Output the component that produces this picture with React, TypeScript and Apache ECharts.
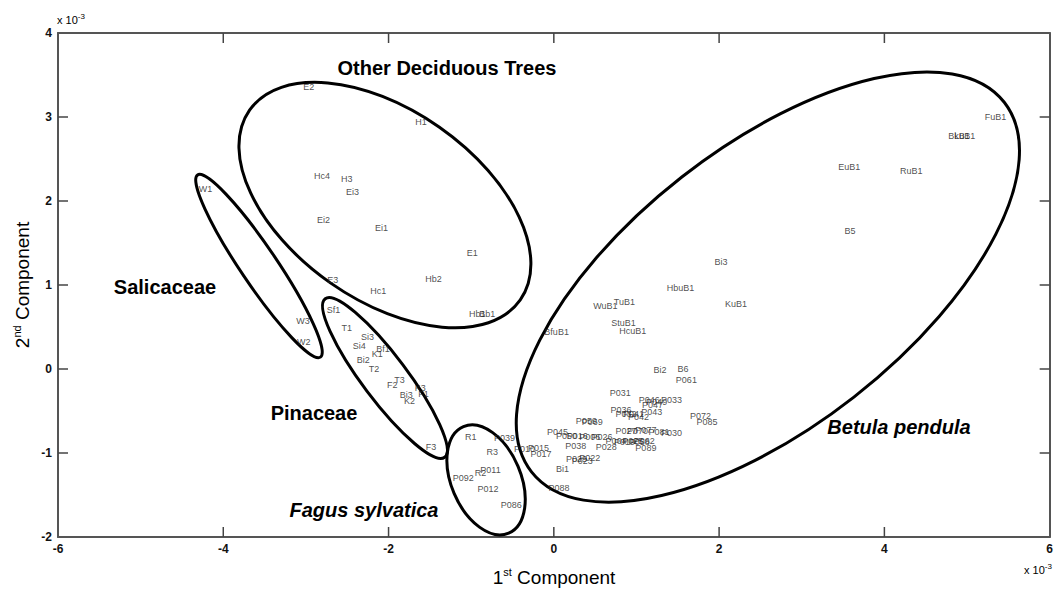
import React, { useEffect, useRef } from "react";
import * as echarts from "echarts";

// [label, 1st component (x10^-3), 2nd component (x10^-3)]
const deciduousPoints: [string, number, number][] = [
  ["E2", -2.96, 3.35], ["H1", -1.6, 2.94], ["Hc4", -2.8, 2.29], ["H3", -2.5, 2.26],
  ["Ei3", -2.43, 2.1], ["Ei2", -2.78, 1.77], ["Ei1", -2.08, 1.67], ["E1", -0.98, 1.38],
  ["E3", -2.67, 1.05], ["Hb2", -1.45, 1.06], ["Hc1", -2.12, 0.92], ["Hb1", -0.92, 0.65],
  ["Bb1", -0.8, 0.65],
];
const salicaceaePoints: [string, number, number][] = [
  ["W1", -4.21, 2.14], ["W3", -3.03, 0.56], ["W2", -3.02, 0.31],
];
const pinaceaePoints: [string, number, number][] = [
  ["Sf1", -2.66, 0.7], ["T1", -2.5, 0.48], ["Si3", -2.25, 0.38], ["Si4", -2.35, 0.27],
  ["Bf1", -2.06, 0.23], ["K1", -2.13, 0.17], ["Bi2", -2.3, 0.1], ["T2", -2.17, 0.0],
  ["F2", -1.95, -0.2], ["T3", -1.86, -0.14], ["K3", -1.61, -0.23], ["F1", -1.57, -0.3],
  ["Bi3", -1.78, -0.32], ["K2", -1.74, -0.39], ["F3", -1.48, -0.94],
];
const fagusPoints: [string, number, number][] = [
  ["R1", -1.0, -0.81], ["P039", -0.59, -0.83], ["R3", -0.74, -0.99], ["P011", -0.76, -1.21],
  ["R2", -0.88, -1.24], ["P092", -1.09, -1.3], ["P012", -0.79, -1.43], ["P086", -0.51, -1.63],
];
const betulaPoints: [string, number, number][] = [
  ["FuB1", 5.35, 2.99], ["BkB1", 4.91, 2.77], ["LuB1", 4.98, 2.77], ["EuB1", 3.58, 2.4],
  ["RuB1", 4.33, 2.35], ["B5", 3.59, 1.64], ["Bi3", 2.03, 1.27], ["HbuB1", 1.54, 0.96],
  ["KuB1", 2.21, 0.77], ["WuB1", 0.63, 0.75], ["TuB1", 0.86, 0.79], ["StuB1", 0.85, 0.54],
  ["HcuB1", 0.96, 0.45], ["BfuB1", 0.04, 0.43], ["Bi2", 1.29, -0.02], ["B6", 1.57, 0.0],
  ["P061", 1.61, -0.14], ["P031", 0.81, -0.29], ["P046", 1.16, -0.38], ["P049", 1.25, -0.4],
  ["P033", 1.43, -0.37], ["P047", 1.2, -0.43], ["P043", 1.19, -0.52], ["P036", 0.82, -0.49],
  ["P032", 0.88, -0.54], ["P041", 0.97, -0.54], ["P042", 1.03, -0.58], ["P059", 0.4, -0.62],
  ["P069", 0.47, -0.64], ["P072", 1.78, -0.56], ["P085", 1.86, -0.64], ["P027", 0.88, -0.74],
  ["P070", 1.02, -0.74], ["P077", 1.12, -0.73], ["P081", 1.28, -0.75], ["P030", 1.43, -0.77],
  ["P045", 0.05, -0.75], ["P050", 0.16, -0.8], ["P016", 0.29, -0.8], ["P006", 0.44, -0.81],
  ["P026", 0.59, -0.81], ["P038", 0.27, -0.92], ["P028", 0.64, -0.94], ["P004", 0.76, -0.86],
  ["P019", 0.86, -0.88], ["P025", 0.96, -0.86], ["P058", 1.04, -0.88], ["P062", 1.1, -0.86],
  ["P089", 1.12, -0.95], ["P010", -0.35, -0.96], ["P015", -0.18, -0.95], ["P017", -0.15, -1.02],
  ["P022", 0.44, -1.06], ["P029", 0.28, -1.08], ["P023", 0.35, -1.1], ["Bi1", 0.11, -1.2],
  ["P088", 0.07, -1.42],
];

// group outlines: [centre x, centre y, semi-major (x units), semi-minor (x units), tilt deg]
const groupEllipses: [number, number, number, number, number][] = [
  [-2.044, 1.952, 2.0, 1.15, -35],
  [-3.568, 1.226, 1.33, 0.22, -56],
  [-2.044, -0.107, 1.2, 0.27, -53],
  [-0.82, -1.32, 0.7, 0.42, -67],
  [2.59, 0.976, 3.63, 1.69, 38],
];

const xTicks = { min: -6, max: 6, interval: 2 };
const yTicks = { min: -2, max: 4, interval: 1 };
const xTickValues = [-4, -2, 0, 2, 4];
const yTickValues = [-1, 0, 1, 2, 3];

const FONT = "Liberation Sans, Arial, sans-serif";

const makeLine = () => ({ show: true, onZero: false, lineStyle: { color: "#555", width: 2 } });
const makeLabel = () => ({ fontSize: 12, fontWeight: "bold", color: "#111", fontFamily: FONT, margin: 6 });

export default function App() {
  const ref = useRef<HTMLDivElement>(null);
  useEffect(() => {
    document.body.style.margin = "0";
    const chart = echarts.init(ref.current!, null, { renderer: "svg" });
    const allPoints = [
      ...deciduousPoints, ...salicaceaePoints, ...pinaceaePoints, ...fagusPoints, ...betulaPoints,
    ];
    const tickData = [
      ...xTickValues.map((v) => [0, v]),
      ...yTickValues.map((v) => [1, v]),
    ];
    const TL = 10;
    const tickStyle = { stroke: "#444", lineWidth: 1.5 };
    chart.setOption({
      animation: false,
      backgroundColor: "#fff",
      grid: { left: 58, right: 6, top: 33, bottom: 53 },
      xAxis: [
        {
          type: "value", ...xTicks, position: "bottom",
          axisLine: makeLine(), axisTick: { show: false }, splitLine: { show: false },
          axisLabel: makeLabel(),
        },
        {
          type: "value", ...xTicks, position: "top",
          axisLine: makeLine(), axisTick: { show: false }, splitLine: { show: false },
          axisLabel: { show: false },
        },
      ],
      yAxis: [
        {
          type: "value", ...yTicks, position: "left",
          axisLine: makeLine(), axisTick: { show: false }, splitLine: { show: false },
          axisLabel: makeLabel(),
        },
        {
          type: "value", ...yTicks, position: "right",
          axisLine: makeLine(), axisTick: { show: false }, splitLine: { show: false },
          axisLabel: { show: false },
        },
      ],
      series: [
        {
          // inward tick marks on all four sides of the frame, placed through the axes' scales
          type: "custom",
          xAxisIndex: 0, yAxisIndex: 0,
          clip: false,
          silent: true,
          data: tickData,
          renderItem: (params: any, api: any) => {
            const cs = params.coordSys;
            const kind = api.value(0);
            const v = api.value(1);
            if (kind === 0) {
              const px = api.coord([v, yTicks.min])[0];
              const bottom = cs.y + cs.height;
              return {
                type: "group",
                children: [
                  { type: "line", shape: { x1: px, y1: bottom, x2: px, y2: bottom - TL }, style: tickStyle },
                  { type: "line", shape: { x1: px, y1: cs.y, x2: px, y2: cs.y + TL }, style: tickStyle },
                ],
              };
            }
            const py = api.coord([xTicks.min, v])[1];
            const right = cs.x + cs.width;
            return {
              type: "group",
              children: [
                { type: "line", shape: { x1: cs.x, y1: py, x2: cs.x + TL, y2: py }, style: tickStyle },
                { type: "line", shape: { x1: right, y1: py, x2: right - TL, y2: py }, style: tickStyle },
              ],
            };
          },
        },
        {
          type: "custom",
          xAxisIndex: 0, yAxisIndex: 0,
          clip: false,
          silent: true,
          encode: { x: 0, y: 1 },
          data: groupEllipses,
          renderItem: (_params: any, api: any) => {
            const c = api.coord([api.value(0), api.value(1)]);
            const s = api.size([1, 1]);
            return {
              type: "ellipse",
              x: c[0], y: c[1],
              rotation: (api.value(4) * Math.PI) / 180,
              shape: { cx: 0, cy: 0, rx: api.value(2) * s[0], ry: api.value(3) * s[0] },
              style: { fill: "none", stroke: "#000", lineWidth: 3 },
            };
          },
        },
        {
          type: "scatter",
          xAxisIndex: 0, yAxisIndex: 0,
          symbolSize: 1,
          itemStyle: { color: "rgba(255,255,255,0)" },
          label: {
            show: true, position: [0, 0], align: "center", verticalAlign: "middle",
            formatter: "{b}", fontSize: 9, color: "#222222", fontFamily: FONT,
          },
          labelLayout: { hideOverlap: false },
          data: allPoints.map(([n, x, y]) => ({ name: n, value: [x, y] })),
        },
      ],
      graphic: [
        { type: "text", x: 447, y: 68, style: { text: "Other Deciduous Trees", font: `bold 20px ${FONT}`, fill: "#000", align: "center", verticalAlign: "middle" } },
        { type: "text", x: 165, y: 287, style: { text: "Salicaceae", font: `bold 20px ${FONT}`, fill: "#000", align: "center", verticalAlign: "middle" } },
        { type: "text", x: 314, y: 413, style: { text: "Pinaceae", font: `bold 20px ${FONT}`, fill: "#000", align: "center", verticalAlign: "middle" } },
        { type: "text", x: 364, y: 510, style: { text: "Fagus sylvatica", font: `italic bold 20px ${FONT}`, fill: "#000", align: "center", verticalAlign: "middle" } },
        { type: "text", x: 899, y: 427, style: { text: "Betula pendula", font: `italic bold 20px ${FONT}`, fill: "#000", align: "center", verticalAlign: "middle" } },
        {
          type: "text", x: 554, y: 577,
          style: {
            text: "{n|1}{s|st}{n| Component}", align: "center", verticalAlign: "middle",
            rich: {
              n: { fontSize: 19, fontFamily: FONT, fill: "#000", lineHeight: 22 },
              s: { fontSize: 11, fontFamily: FONT, fill: "#000", padding: [0, 0, 10, 0], lineHeight: 22 },
            },
          },
        },
        {
          type: "text", x: 22, y: 285, rotation: Math.PI / 2,
          style: {
            text: "{n|2}{s|nd}{n| Component}", align: "center", verticalAlign: "middle",
            rich: {
              n: { fontSize: 19, fontFamily: FONT, fill: "#000", lineHeight: 22 },
              s: { fontSize: 11, fontFamily: FONT, fill: "#000", padding: [0, 0, 10, 0], lineHeight: 22 },
            },
          },
        },
        {
          type: "text", x: 57, y: 20,
          style: {
            text: "{n|x 10}{s|-3}", verticalAlign: "middle",
            rich: {
              n: { fontSize: 11, fontFamily: FONT, fill: "#000" },
              s: { fontSize: 8, fontFamily: FONT, fill: "#000", padding: [0, 0, 8, 0] },
            },
          },
        },
        {
          type: "text", x: 1024, y: 570,
          style: {
            text: "{n|x 10}{s|-3}", verticalAlign: "middle",
            rich: {
              n: { fontSize: 11, fontFamily: FONT, fill: "#000" },
              s: { fontSize: 8, fontFamily: FONT, fill: "#000", padding: [0, 0, 8, 0] },
            },
          },
        },
      ],
    });
    return () => chart.dispose();
  }, []);
  return <div ref={ref} style={{ width: 1056, height: 590 }} />;
}
